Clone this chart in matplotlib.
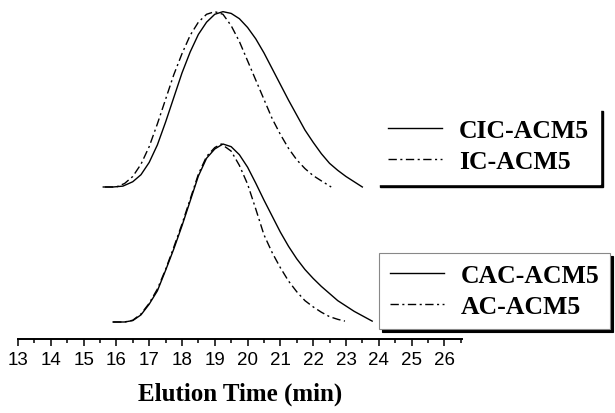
import numpy as np
import matplotlib
matplotlib.use('Agg')
import matplotlib.pyplot as plt

plt.rcParams.update({'font.family': 'Liberation Sans',
                     'axes.linewidth': 1.4})

# elution time (min) and normalised detector signal
t_cic = [15.6, 15.9, 16.2, 16.5, 16.75, 17.0, 17.25, 17.5, 17.75, 18.0, 18.25, 18.5, 18.75,
         19.0, 19.25, 19.5, 19.75, 20.0, 20.25, 20.5, 20.75, 21.0, 21.25, 21.5, 21.75,
         22.0, 22.25, 22.5, 22.75, 23.0, 23.25, 23.5]
s_cic = [0.0, 0.0, 0.005, 0.03, 0.07, 0.14, 0.24, 0.37, 0.51, 0.65, 0.77, 0.87, 0.94,
         0.985, 1.0, 0.99, 0.96, 0.91, 0.845, 0.765, 0.675, 0.585, 0.495, 0.41, 0.325,
         0.255, 0.19, 0.135, 0.095, 0.06, 0.03, 0.0]

t_ic = [15.65, 16.0, 16.25, 16.5, 16.75, 17.0, 17.25, 17.5, 17.75, 18.0, 18.25, 18.5, 18.75,
        19.0, 19.25, 19.5, 19.75, 20.0, 20.25, 20.5, 20.75, 21.0, 21.25, 21.5, 21.75,
        22.0, 22.25, 22.55]
s_ic = [0.0, 0.0, 0.02, 0.06, 0.13, 0.23, 0.36, 0.5, 0.64, 0.76, 0.865, 0.94, 0.985,
        1.0, 0.985, 0.92, 0.83, 0.72, 0.61, 0.5, 0.39, 0.3, 0.22, 0.155, 0.105,
        0.065, 0.035, 0.0]

t_cac = [15.9, 16.25, 16.5, 16.75, 17.0, 17.25, 17.5, 17.75, 18.0, 18.25, 18.5, 18.75,
         19.0, 19.25, 19.5, 19.75, 20.0, 20.25, 20.5, 20.75, 21.0, 21.25, 21.5, 21.75,
         22.0, 22.25, 22.5, 22.75, 23.0, 23.25, 23.5, 23.8]
s_cac = [0.0, 0.0, 0.008, 0.04, 0.1, 0.175, 0.29, 0.41, 0.54, 0.68, 0.82, 0.92,
         0.972, 1.0, 0.985, 0.94, 0.87, 0.78, 0.685, 0.595, 0.505, 0.425, 0.355, 0.295,
         0.245, 0.2, 0.16, 0.12, 0.09, 0.06, 0.035, 0.005]

t_ac = [15.9, 16.25, 16.5, 16.75, 17.0, 17.25, 17.5, 17.75, 18.0, 18.25, 18.5, 18.75,
        19.0, 19.2, 19.5, 19.75, 20.0, 20.25, 20.5, 20.75, 21.0, 21.25, 21.5, 21.75,
        22.0, 22.25, 22.5, 22.75, 22.97]
s_ac = [0.0, 0.0, 0.01, 0.045, 0.105, 0.185, 0.295, 0.42, 0.55, 0.69, 0.83, 0.93,
        0.98, 1.0, 0.96, 0.88, 0.775, 0.635, 0.49, 0.39, 0.305, 0.23, 0.17, 0.12,
        0.085, 0.055, 0.03, 0.015, 0.005]

upper_base, upper_scale = 0.854, 0.985
lower_base = 0.0955
dashdot = (0, (6, 2.5, 1.5, 2.5))

fig = plt.figure(figsize=(6.15, 4.14), dpi=100)
ax = fig.add_axes([18 / 615, 74 / 414, 443.7 / 615, 340 / 414])

l1, = ax.plot(t_cic, upper_base + upper_scale * np.array(s_cic), '-', color='black', lw=1.0)
l2, = ax.plot(t_ic, upper_base + upper_scale * np.array(s_ic), color='black', lw=1.0, linestyle=dashdot)
l3, = ax.plot(t_cac, lower_base + np.array(s_cac), '-', color='black', lw=1.0)
l4, = ax.plot(t_ac, lower_base + np.array(s_ac), color='black', lw=1.0, linestyle=dashdot)

ax.set_xlim(13, 26.53)
ax.set_ylim(0, 340 / 178)
ax.set_xticks(np.arange(13, 27, 1))
ax.set_xticklabels([str(v) for v in range(13, 27)], fontsize=13.5)
ax.set_xticks(np.arange(13.5, 26.6, 1), minor=True)
ax.tick_params(axis='x', which='major', direction='out', length=5, width=1.1, pad=3.5)
ax.tick_params(axis='x', which='minor', direction='out', length=3, width=1.1)
ax.set_yticks([])
for s in ['top', 'right', 'left']:
    ax.spines[s].set_visible(False)

ax.set_xlabel('Elution Time (min)', fontsize=18, family='Liberation Serif',
              fontweight='bold', labelpad=10)

leg_font = {'family': 'Liberation Serif', 'weight': 'bold', 'size': 18.5}
shadow = {'color': 'black', 'alpha': 1.0}
leg_opts = dict(prop=leg_font, loc='lower right', bbox_transform=fig.transFigure,
                fancybox=False, shadow=shadow, framealpha=1, handlelength=2.1,
                handletextpad=0.66, labelspacing=0.32, borderpad=0.42, borderaxespad=0)

leg1 = ax.legend([l1, l2], ['CIC-ACM5', 'IC-ACM5'], edgecolor='white',
                 bbox_to_anchor=(600 / 615, 1 - 185 / 414), **leg_opts)
ax.add_artist(leg1)
leg2 = ax.legend([l3, l4], ['CAC-ACM5', 'AC-ACM5'], edgecolor='#888888',
                 bbox_to_anchor=(610 / 615, 1 - 330 / 414), **leg_opts)
leg2.get_frame().set_linewidth(0.8)

fig.savefig('out.png', dpi=100)
